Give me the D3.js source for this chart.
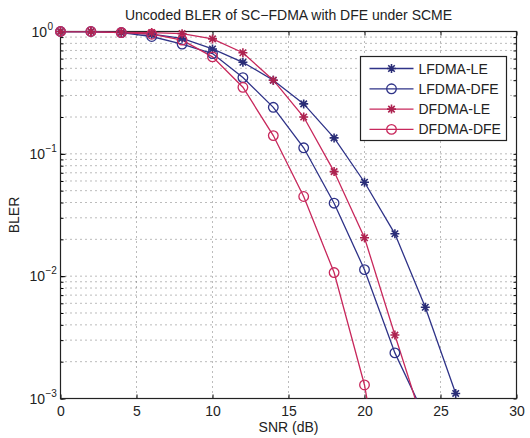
<!DOCTYPE html>
<html>
<head>
<meta charset="utf-8">
<script src="https://cdn.jsdelivr.net/npm/d3@7"></script>
<style>
  body { margin: 0; background: #fff; }
  svg text { font-family: "Liberation Sans", Arial, sans-serif; fill: #222; }
</style>
</head>
<body>
<svg width="530" height="438"></svg>
<script>
// data
const snr = [0, 2, 4, 6, 8, 10, 12, 14, 16, 18, 20, 22, 24, 26];
const lfdmaLE  = [1, 1, 0.98, 0.95, 0.88, 0.72, 0.56, 0.40, 0.256, 0.135, 0.0586, 0.0222, 0.00557, 0.0011];
const lfdmaDFE = [1, 1, 0.98, 0.91, 0.79, 0.66, 0.42, 0.24, 0.112, 0.0395, 0.0113, 0.00236, 0.0007];
const dfdmaLE  = [1, 1, 0.99, 0.98, 0.96, 0.87, 0.67, 0.40, 0.20, 0.0716, 0.0206, 0.0033, 0.00055];
const dfdmaDFE = [1, 1, 0.98, 0.95, 0.85, 0.62, 0.35, 0.141, 0.0448, 0.0107, 0.00129, 0.00005];
const xTicks = [0, 5, 10, 15, 20, 25, 30];
const yTicks = [1e-3, 1e-2, 1e-1, 1];

const blue = '#2f3388';
const red = '#c8285c';

const series = [
  {name: 'LFDMA-LE', values: lfdmaLE, color: blue, marker: 'star'},
  {name: 'LFDMA-DFE', values: lfdmaDFE, color: blue, marker: 'circle'},
  {name: 'DFDMA-LE', values: dfdmaLE, color: red, marker: 'star'},
  {name: 'DFDMA-DFE', values: dfdmaDFE, color: red, marker: 'circle'}
];

const svg = d3.select('svg');
const margin = {top: 31.5, right: 13.5, bottom: 39.5, left: 60.5};
const width = +svg.attr('width');
const height = +svg.attr('height');
const innerWidth = width - margin.left - margin.right;
const innerHeight = height - margin.top - margin.bottom;

const xScale = d3.scaleLinear().domain([0, 30]).range([0, innerWidth]);
const yScale = d3.scaleLog().domain([1e-3, 1]).range([innerHeight, 0]);

const g = svg.append('g')
  .attr('transform', `translate(${margin.left}, ${margin.top})`);

svg.append('defs').append('clipPath').attr('id', 'clip')
  .append('rect').attr('width', innerWidth).attr('height', innerHeight);

// minor + major log values for grid
const yGrid = [];
for (let e = -3; e < 0; e++) {
  for (let m = 1; m < 10; m++) yGrid.push(m * Math.pow(10, e));
}

// grid (dotted)
g.append('g').selectAll('line').data(xTicks.slice(1, -1)).enter().append('line')
  .attr('x1', d => xScale(d)).attr('x2', d => xScale(d))
  .attr('y1', 0).attr('y2', innerHeight)
  .attr('stroke', '#555').attr('stroke-width', 0.8)
  .attr('stroke-dasharray', '1,4');

g.append('g').selectAll('line').data(yGrid.slice(1)).enter().append('line')
  .attr('x1', 0).attr('x2', innerWidth)
  .attr('y1', d => yScale(d)).attr('y2', d => yScale(d))
  .attr('stroke', '#555').attr('stroke-width', 0.8)
  .attr('stroke-dasharray', '1,4');

// axes with inward ticks
const xAxis = d3.axisBottom(xScale).tickValues(xTicks).tickSize(-4).tickPadding(8);
const xAxisG = g.append('g').attr('transform', `translate(0, ${innerHeight})`).call(xAxis);
xAxisG.select('.domain').remove();
xAxisG.selectAll('text').attr('font-size', '14px').attr('fill', '#222');

// tick marks only (labels removed)
const tickOnly = (sel, axis) => {
  sel.call(axis);
  sel.select('.domain').remove();
  sel.selectAll('text').remove();
};
tickOnly(g.append('g'), d3.axisTop(xScale).tickValues(xTicks).tickSize(-4));
tickOnly(g.append('g'), d3.axisLeft(yScale).tickValues(yGrid).tickSize(-3));
tickOnly(g.append('g'), d3.axisLeft(yScale).tickValues(yTicks).tickSize(-5));
tickOnly(g.append('g').attr('transform', `translate(${innerWidth},0)`),
  d3.axisRight(yScale).tickValues(yGrid).tickSize(-3));

// y tick labels 10^n as base + exponent texts
const labX = d => Math.log10(d) < 0 ? -15.5 : -13.5;
const yLab = g.append('g');
yLab.selectAll('text.base').data(yTicks).enter().append('text')
  .attr('class', 'base')
  .attr('x', labX).attr('y', d => yScale(d) + 5)
  .attr('text-anchor', 'end').attr('font-size', '14px')
  .text('10');
yLab.selectAll('text.exp').data(yTicks).enter().append('text')
  .attr('class', 'exp')
  .attr('x', d => labX(d) + 0.5).attr('y', d => yScale(d) - 2)
  .attr('font-size', '10px')
  .text(d => d3.format('d')(Math.round(Math.log10(d))).replace('-', '\u2212'));

// box
g.append('rect').attr('width', innerWidth).attr('height', innerHeight)
  .attr('fill', 'none').attr('stroke', '#222').attr('stroke-width', 1.2);

// lines and markers
const line = d3.line().x((d, i) => xScale(snr[i])).y(d => yScale(d));
const starPath = r => {
  const a = r * 0.72;
  return `M${-r},0L${r},0M0,${-r}L0,${r}M${-a},${-a}L${a},${a}M${-a},${a}L${a},${-a}`;
};

const plot = g.append('g').attr('clip-path', 'url(#clip)');
series.forEach(s => {
  plot.append('path').attr('d', line(s.values))
    .attr('fill', 'none').attr('stroke', s.color).attr('stroke-width', 1.3);
});

const drawMarker = (sel, s, cx, cy) => {
  if (s.marker === 'star') {
    sel.append('path').attr('d', starPath(4.5))
      .attr('transform', `translate(${cx},${cy})`)
      .attr('stroke', d3.color(s.color).darker(0.4)).attr('stroke-width', 1.6).attr('fill', 'none');
  } else {
    sel.append('circle').attr('cx', cx).attr('cy', cy).attr('r', 4.8)
      .attr('fill', 'none').attr('stroke', s.color).attr('stroke-width', 1.3);
  }
};

const markG = g.append('g');
series.forEach(s => {
  s.values.forEach((v, i) => {
    if (v >= 1e-3) drawMarker(markG, s, xScale(snr[i]), yScale(v));
  });
});

// title and axis labels
svg.append('text').attr('x', margin.left + innerWidth / 2).attr('y', 20)
  .attr('text-anchor', 'middle').attr('font-size', '14px')
  .text('Uncoded BLER of SC\u2212FDMA with DFE under SCME');

svg.append('text').attr('x', margin.left + innerWidth / 2).attr('y', 432)
  .attr('text-anchor', 'middle').attr('font-size', '14px')
  .text('SNR (dB)');

svg.append('text').attr('transform', `translate(19, ${margin.top + innerHeight / 2}) rotate(-90)`)
  .attr('text-anchor', 'middle').attr('font-size', '14px')
  .text('BLER');

// legend
const legend = svg.append('g').attr('transform', 'translate(360.5, 56.5)');
legend.append('rect').attr('width', 146).attr('height', 84)
  .attr('fill', '#fff').attr('stroke', '#222').attr('stroke-width', 1.2);
series.forEach((s, i) => {
  const y = 12 + i * 20.3;
  legend.append('line').attr('x1', 9).attr('x2', 53).attr('y1', y).attr('y2', y)
    .attr('stroke', s.color).attr('stroke-width', 1.3);
  drawMarker(legend, s, 31, y);
  legend.append('text').attr('x', 58).attr('y', y + 5).attr('font-size', '14px').text(s.name);
});
</script>
</body>
</html>
